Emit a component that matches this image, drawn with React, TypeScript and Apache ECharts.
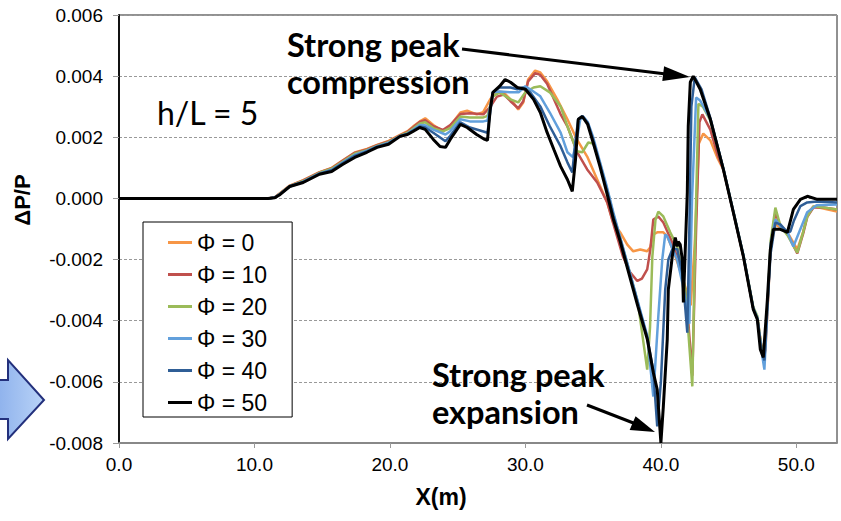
import React, { useEffect, useRef } from "react";
import * as echarts from "echarts";

const seriesNames = ["Φ = 0", "Φ = 10", "Φ = 20", "Φ = 30", "Φ = 40", "Φ = 50"];
const seriesColors = ["#f79646", "#c0504d", "#9bbb59", "#62a0dc", "#2f5e96", "#000000"];

const phi0: number[][] = [[0,0],[11.0,0],[11.5,0.00004],[11.9,0.00018],[12.6,0.00042],[13.6,0.00060],[14.8,0.00086],[15.7,0.00100],[16.5,0.00124],[17.4,0.00150],[18.3,0.00162],[19.05,0.00175],[19.9,0.00188],[20.75,0.00208],[21.3,0.00220],[21.7,0.00235],[22.2,0.00252],[22.6,0.00262],[23.2,0.00240],[23.9,0.00220],[24.45,0.00238],[25.2,0.00281],[25.7,0.00287],[26.4,0.00275],[26.88,0.00282],[27.4,0.00324],[27.9,0.00350],[28.4,0.00347],[29.1,0.00314],[29.47,0.00291],[29.84,0.00314],[30.2,0.00389],[30.72,0.00418],[31.1,0.00412],[31.6,0.00383],[32.35,0.00324],[33.1,0.00259],[33.8,0.00193],[34.56,0.00137],[35.3,0.00062],[36.04,-0.00013],[36.48,-0.00079],[37.0,-0.00111],[37.52,-0.00151],[37.96,-0.00173],[38.48,-0.00167],[38.99,-0.00173],[39.22,-0.00160],[39.44,-0.00118],[39.73,-0.00111],[40.18,-0.00111],[40.47,-0.00124],[41.0,-0.00180],[41.6,-0.00260],[42.2,-0.00350],[42.5,-0.00150],[42.8,0.00180],[43.13,0.00212],[43.65,0.00190],[44.2,0.00130],[44.61,0.00095],[45.35,-0.00046],[46.09,-0.00190],[46.82,-0.00360],[47.12,-0.00390],[47.40,-0.00480],[47.71,-0.00500],[47.9,-0.00340],[48.1,-0.00160],[48.45,-0.00085],[48.82,-0.00095],[49.34,-0.00111],[50.07,-0.00167],[50.5,-0.00110],[50.81,-0.00050],[51.26,-0.00026],[52.0,-0.00033],[53.0,-0.00043]];

const phi10: number[][] = [[0,0],[11.0,0],[11.5,0.00004],[11.9,0.00017],[12.6,0.00041],[13.6,0.00059],[14.8,0.00085],[15.7,0.00099],[16.5,0.00123],[17.4,0.00149],[18.3,0.00160],[19.05,0.00174],[19.9,0.00186],[20.75,0.00206],[21.3,0.00218],[21.7,0.00232],[22.2,0.00250],[22.6,0.00256],[23.2,0.00236],[23.9,0.00224],[24.45,0.00240],[25.2,0.00276],[25.9,0.00279],[26.9,0.00275],[27.4,0.00300],[27.9,0.00333],[28.4,0.00340],[28.9,0.00318],[29.47,0.00295],[29.84,0.00318],[30.2,0.00383],[30.72,0.00410],[31.1,0.00404],[31.6,0.00375],[32.05,0.00330],[32.6,0.00275],[33.1,0.00236],[33.83,0.00151],[34.56,0.00095],[35.3,0.00052],[36.04,-0.00013],[36.6,-0.00100],[37.2,-0.00190],[37.7,-0.00240],[38.26,-0.00270],[38.6,-0.00262],[38.99,-0.00232],[39.22,-0.00167],[39.44,-0.00069],[39.81,-0.00059],[40.18,-0.00079],[40.8,-0.00140],[41.4,-0.00220],[41.9,-0.00330],[42.32,-0.00580],[42.6,-0.00100],[42.85,0.00250],[43.06,0.00275],[43.65,0.00225],[44.2,0.00140],[44.61,0.00095],[45.35,-0.00046],[46.09,-0.00190],[46.82,-0.00360],[47.12,-0.00390],[47.40,-0.00480],[47.67,-0.00510],[47.9,-0.00330],[48.1,-0.00150],[48.45,-0.00046],[48.82,-0.00090],[49.34,-0.00115],[50.07,-0.00180],[50.5,-0.00115],[50.81,-0.00060],[51.26,-0.00030],[52.0,-0.00030],[53.0,-0.00036]];

const phi20: number[][] = [[0,0],[11.0,0],[11.5,0.00003],[11.9,0.00016],[12.6,0.00040],[13.6,0.00057],[14.8,0.00084],[15.7,0.00097],[16.5,0.00120],[17.4,0.00146],[18.3,0.00158],[19.05,0.00172],[19.9,0.00184],[20.75,0.00205],[21.3,0.00215],[21.7,0.00228],[22.2,0.00245],[22.6,0.00249],[23.2,0.00230],[23.9,0.00219],[24.45,0.00230],[25.2,0.00268],[25.9,0.00265],[26.9,0.00265],[27.2,0.00270],[27.6,0.00334],[28.1,0.00347],[28.9,0.00324],[29.47,0.00314],[29.99,0.00347],[30.6,0.00363],[31.1,0.00367],[31.8,0.00347],[32.6,0.00301],[33.1,0.00236],[33.8,0.00154],[34.2,0.00151],[34.64,0.00183],[35.0,0.00180],[35.5,0.00115],[36.0,0.00035],[36.5,-0.00052],[37.0,-0.00130],[37.5,-0.00210],[38.3,-0.00340],[38.99,-0.00560],[39.2,-0.00420],[39.37,-0.00190],[39.6,-0.00070],[39.81,-0.00043],[40.18,-0.00059],[40.69,-0.00111],[41.21,-0.00157],[41.8,-0.00300],[42.32,-0.00615],[42.5,-0.00200],[42.77,0.00310],[43.1,0.00300],[43.65,0.00255],[44.61,0.00098],[45.35,-0.00043],[46.09,-0.00185],[46.82,-0.00355],[47.12,-0.00385],[47.40,-0.00480],[47.64,-0.00520],[47.9,-0.00320],[48.1,-0.00140],[48.45,-0.00030],[48.82,-0.00090],[49.34,-0.00120],[50.07,-0.00177],[50.5,-0.00110],[50.81,-0.00059],[51.26,-0.00026],[52.0,-0.00030],[53.0,-0.00036]];

const phi30: number[][] = [[0,0],[11.0,0],[11.5,0.00003],[11.9,0.00015],[12.6,0.00040],[13.6,0.00055],[14.8,0.00082],[15.7,0.00094],[16.5,0.00117],[17.4,0.00142],[18.3,0.00156],[19.05,0.00170],[19.9,0.00182],[20.75,0.00204],[21.3,0.00212],[21.7,0.00224],[22.2,0.00240],[22.6,0.00239],[23.2,0.00225],[24.1,0.00209],[24.45,0.00220],[25.2,0.00259],[25.9,0.00252],[26.9,0.00252],[27.2,0.00255],[27.6,0.00347],[28.1,0.00350],[28.9,0.00347],[29.5,0.00347],[29.99,0.00367],[30.35,0.00357],[31.1,0.00334],[31.8,0.00281],[32.6,0.00215],[33.1,0.00151],[33.5,0.00135],[33.8,0.00193],[34.05,0.00259],[34.3,0.00266],[34.6,0.00250],[35.0,0.00200],[35.5,0.00120],[36.0,0.00040],[36.5,-0.00048],[37.0,-0.00128],[37.5,-0.00208],[38.3,-0.00338],[39.0,-0.00450],[39.44,-0.00648],[39.81,-0.00386],[40.1,-0.00200],[40.32,-0.00118],[40.47,-0.00124],[40.8,-0.00160],[41.2,-0.00200],[41.6,-0.00280],[42.1,-0.00410],[42.3,0.00000],[42.6,0.00330],[42.9,0.00320],[43.65,0.00260],[44.61,0.00098],[45.35,-0.00043],[46.09,-0.00185],[46.82,-0.00358],[47.12,-0.00390],[47.40,-0.00490],[47.64,-0.00560],[47.9,-0.00330],[48.1,-0.00150],[48.45,-0.00069],[48.82,-0.00090],[49.34,-0.00110],[49.78,-0.00157],[50.3,-0.00100],[50.8,-0.00045],[51.5,-0.00022],[53.0,-0.00020]];

const phi40: number[][] = [[0,0],[11.0,0],[11.5,0.00003],[11.9,0.00014],[12.6,0.00039],[13.6,0.00054],[14.8,0.00081],[15.7,0.00092],[16.5,0.00115],[17.4,0.00139],[18.3,0.00154],[19.05,0.00169],[19.9,0.00180],[20.75,0.00204],[21.3,0.00211],[21.7,0.00222],[22.2,0.00235],[22.6,0.00232],[23.2,0.00215],[24.1,0.00187],[24.45,0.00205],[25.2,0.00249],[25.9,0.00232],[26.9,0.00219],[27.2,0.00215],[27.6,0.00347],[28.1,0.00363],[28.9,0.00363],[29.4,0.00357],[29.8,0.00363],[30.35,0.00347],[31.1,0.00301],[31.8,0.00236],[32.6,0.00170],[33.1,0.00118],[33.46,0.00085],[33.68,0.00183],[33.9,0.00259],[34.2,0.00270],[34.6,0.00247],[35.0,0.00192],[35.5,0.00112],[36.0,0.00030],[36.5,-0.00058],[37.0,-0.00133],[37.5,-0.00213],[38.3,-0.00343],[39.0,-0.00455],[39.44,-0.00565],[39.73,-0.00746],[40.0,-0.00600],[40.32,-0.00298],[40.55,-0.00200],[40.84,-0.00167],[41.2,-0.00165],[41.6,-0.00250],[41.95,-0.00439],[42.1,-0.00100],[42.25,0.00300],[42.5,0.00396],[43.0,0.00357],[43.65,0.00263],[44.61,0.00097],[45.35,-0.00045],[46.09,-0.00188],[46.82,-0.00360],[47.12,-0.00393],[47.40,-0.00490],[47.64,-0.00530],[47.86,-0.00350],[48.1,-0.00180],[48.45,-0.00079],[48.82,-0.00085],[49.34,-0.00111],[49.56,-0.00108],[49.8,-0.00075],[50.3,-0.00025],[50.8,-0.00013],[51.5,-0.00010],[53.0,-0.00013]];

const phi50: number[][] = [[0,0],[11.0,0],[11.5,0.00002],[11.9,0.00013],[12.6,0.00039],[13.6,0.00052],[14.8,0.00079],[15.7,0.00088],[16.5,0.00111],[17.4,0.00134],[18.3,0.00151],[19.05,0.00167],[19.9,0.00177],[20.75,0.00203],[21.3,0.00209],[21.7,0.00219],[22.2,0.00232],[22.6,0.00226],[23.2,0.00193],[23.7,0.00170],[24.1,0.00167],[24.45,0.00193],[25.2,0.00242],[25.7,0.00232],[26.4,0.00209],[27.0,0.00193],[27.2,0.00190],[27.4,0.00291],[27.6,0.00347],[28.1,0.00367],[28.5,0.00389],[28.9,0.00380],[29.4,0.00363],[30.0,0.00357],[30.6,0.00324],[31.1,0.00281],[31.6,0.00216],[32.1,0.00160],[32.6,0.00105],[33.1,0.00062],[33.46,0.00023],[33.7,0.00128],[33.9,0.00259],[34.2,0.00268],[34.6,0.00242],[35.0,0.00183],[35.5,0.00105],[36.0,0.00020],[36.5,-0.00069],[37.0,-0.00141],[37.5,-0.00223],[38.3,-0.00353],[39.0,-0.00461],[39.44,-0.00569],[39.73,-0.00625],[40.0,-0.00800],[40.18,-0.00681],[40.47,-0.00461],[40.55,-0.00298],[40.84,-0.00190],[41.06,-0.00128],[41.21,-0.00157],[41.28,-0.00141],[41.43,-0.00151],[41.58,-0.00200],[41.66,-0.00340],[41.95,0.00020],[42.02,0.00236],[42.17,0.00380],[42.39,0.00400],[42.9,0.00357],[43.65,0.00259],[44.61,0.00095],[45.35,-0.00046],[46.09,-0.00190],[46.82,-0.00363],[47.12,-0.00396],[47.34,-0.00494],[47.56,-0.00520],[47.86,-0.00331],[48.08,-0.00167],[48.3,-0.00101],[48.82,-0.00101],[49.34,-0.00111],[49.78,-0.00036],[50.3,-0.00003],[50.81,0.00007],[51.55,-0.00003],[53.0,-0.00003]];

const allSeries = [phi0, phi10, phi20, phi30, phi40, phi50];

const xMin = 0;
const xMax = 53;
const xStep = 10;
const yMin = -0.008;
const yMax = 0.006;
const yStep = 0.002;

const annotationTop = ["Strong peak", "compression"];
const annotationBottom = ["Strong peak", "expansion"];
const ratioLabel = "h/L = 5";
const xTitle = "X(m)";
const yTitle = "ΔP/P";

export default function App() {
  const ref = useRef<HTMLDivElement>(null);
  useEffect(() => {
    if (!ref.current) return;
    const chart = echarts.init(ref.current, null, { renderer: "svg" });
    const tickFont = "Liberation Sans";
    const boldFont = "Lato";
    const annoStyle = (text: string) => ({
      text, fontFamily: boldFont, fontWeight: "bold", fontSize: 32.5, fill: "#000",
      textVerticalAlign: "middle", verticalAlign: "middle",
    });
    const option: any = {
      animation: false,
      backgroundColor: "#ffffff",
      grid: {
        left: 119, right: 4, top: 15, bottom: 78,
        show: true, borderColor: "#222", borderWidth: 1, backgroundColor: "transparent",
      },
      xAxis: {
        type: "value", min: xMin, max: xMax, interval: xStep,
        axisLine: { show: true, onZero: false, lineStyle: { color: "#888", width: 2 } },
        axisTick: { show: true, length: 5, lineStyle: { color: "#999", width: 1 } },
        axisLabel: {
          show: true, margin: 12, showMaxLabel: false,
          formatter: (v: number) => v.toFixed(1),
          fontFamily: tickFont, fontSize: 19, color: "#000",
        },
        splitLine: { show: false },
      },
      yAxis: {
        type: "value", min: yMin, max: yMax, interval: yStep,
        axisLine: { show: true, onZero: false, lineStyle: { color: "#111", width: 2 } },
        axisTick: { show: true, length: 6, lineStyle: { color: "#999", width: 1 } },
        axisLabel: {
          show: true, margin: 16,
          formatter: (v: number) => v.toFixed(3),
          fontFamily: tickFont, fontSize: 19, color: "#000",
        },
        splitLine: { show: true, lineStyle: { color: "#999", width: 1, type: [3, 2] } },
      },
      legend: {
        show: true, orient: "vertical", left: 143, top: 222,
        icon: "rect", itemWidth: 24, itemHeight: 3, itemGap: 9,
        padding: [9, 25, 3, 25],
        backgroundColor: "#fff", borderColor: "#000", borderWidth: 1, borderRadius: 0,
        selectedMode: false,
        textStyle: { fontFamily: tickFont, fontSize: 23, color: "#000", lineHeight: 23 },
        data: seriesNames,
      },
      series: allSeries.map((d, i) => ({
        type: "line",
        name: seriesNames[i],
        data: d,
        symbol: "none",
        showSymbol: false,
        color: seriesColors[i],
        itemStyle: { color: seriesColors[i] },
        lineStyle: { color: seriesColors[i], width: i === 5 ? 3 : 2.5 },
        z: 2 + i,
      })),
      graphic: [
        {
          type: "polygon",
          shape: { points: [[-5, 380], [8, 380], [8, 360], [44, 400], [8, 439], [8, 419], [-5, 419]] },
          style: {
            fill: new echarts.graphic.LinearGradient(0, 0, 1, 0, [
              { offset: 0, color: "#8cb0ec" },
              { offset: 1, color: "#b9d3f7" },
            ]),
            stroke: "#23307c", lineWidth: 2,
          },
          z: 10,
        },
        {
          type: "text", x: 157, y: 112,
          style: { text: ratioLabel, fontFamily: boldFont, fontSize: 32, fill: "#000", textVerticalAlign: "middle", verticalAlign: "middle" },
          z: 10,
        },
        { type: "text", x: 287, y: 44, style: annoStyle(annotationTop[0]), z: 10 },
        { type: "text", x: 287, y: 81, style: annoStyle(annotationTop[1]), z: 10 },
        { type: "text", x: 432, y: 374, style: annoStyle(annotationBottom[0]), z: 10 },
        { type: "text", x: 432, y: 411, style: annoStyle(annotationBottom[1]), z: 10 },
        {
          type: "line", shape: { x1: 462, y1: 49, x2: 666, y2: 74 },
          style: { stroke: "#000", lineWidth: 3 }, z: 10,
        },
        {
          type: "polygon", shape: { points: [[690, 77], [664.1, 66.3], [662.3, 81.1]] },
          style: { fill: "#000" }, z: 10,
        },
        {
          type: "line", shape: { x1: 587, y1: 405, x2: 636, y2: 424 },
          style: { stroke: "#000", lineWidth: 3 }, z: 10,
        },
        {
          type: "polygon", shape: { points: [[655, 432], [635.6, 416.2], [629.6, 429.9]] },
          style: { fill: "#000" }, z: 10,
        },
        {
          type: "text", x: 441, y: 497,
          style: { text: xTitle, fontFamily: tickFont, fontWeight: "bold", fontSize: 23, fill: "#000", textAlign: "center", align: "center", textVerticalAlign: "middle", verticalAlign: "middle" },
          z: 10,
        },
        {
          type: "text", x: 22, y: 200, rotation: Math.PI / 2,
          style: { text: yTitle, fontFamily: tickFont, fontWeight: "bold", fontSize: 22, fill: "#000", textAlign: "center", align: "center", textVerticalAlign: "middle", verticalAlign: "middle" },
          z: 10,
        },
      ],
    };
    chart.setOption(option);
    return () => chart.dispose();
  }, []);
  return (
    <div
      ref={ref}
      style={{ position: "fixed", left: 0, top: 0, width: 841, height: 521, background: "#fff" }}
    />
  );
}
